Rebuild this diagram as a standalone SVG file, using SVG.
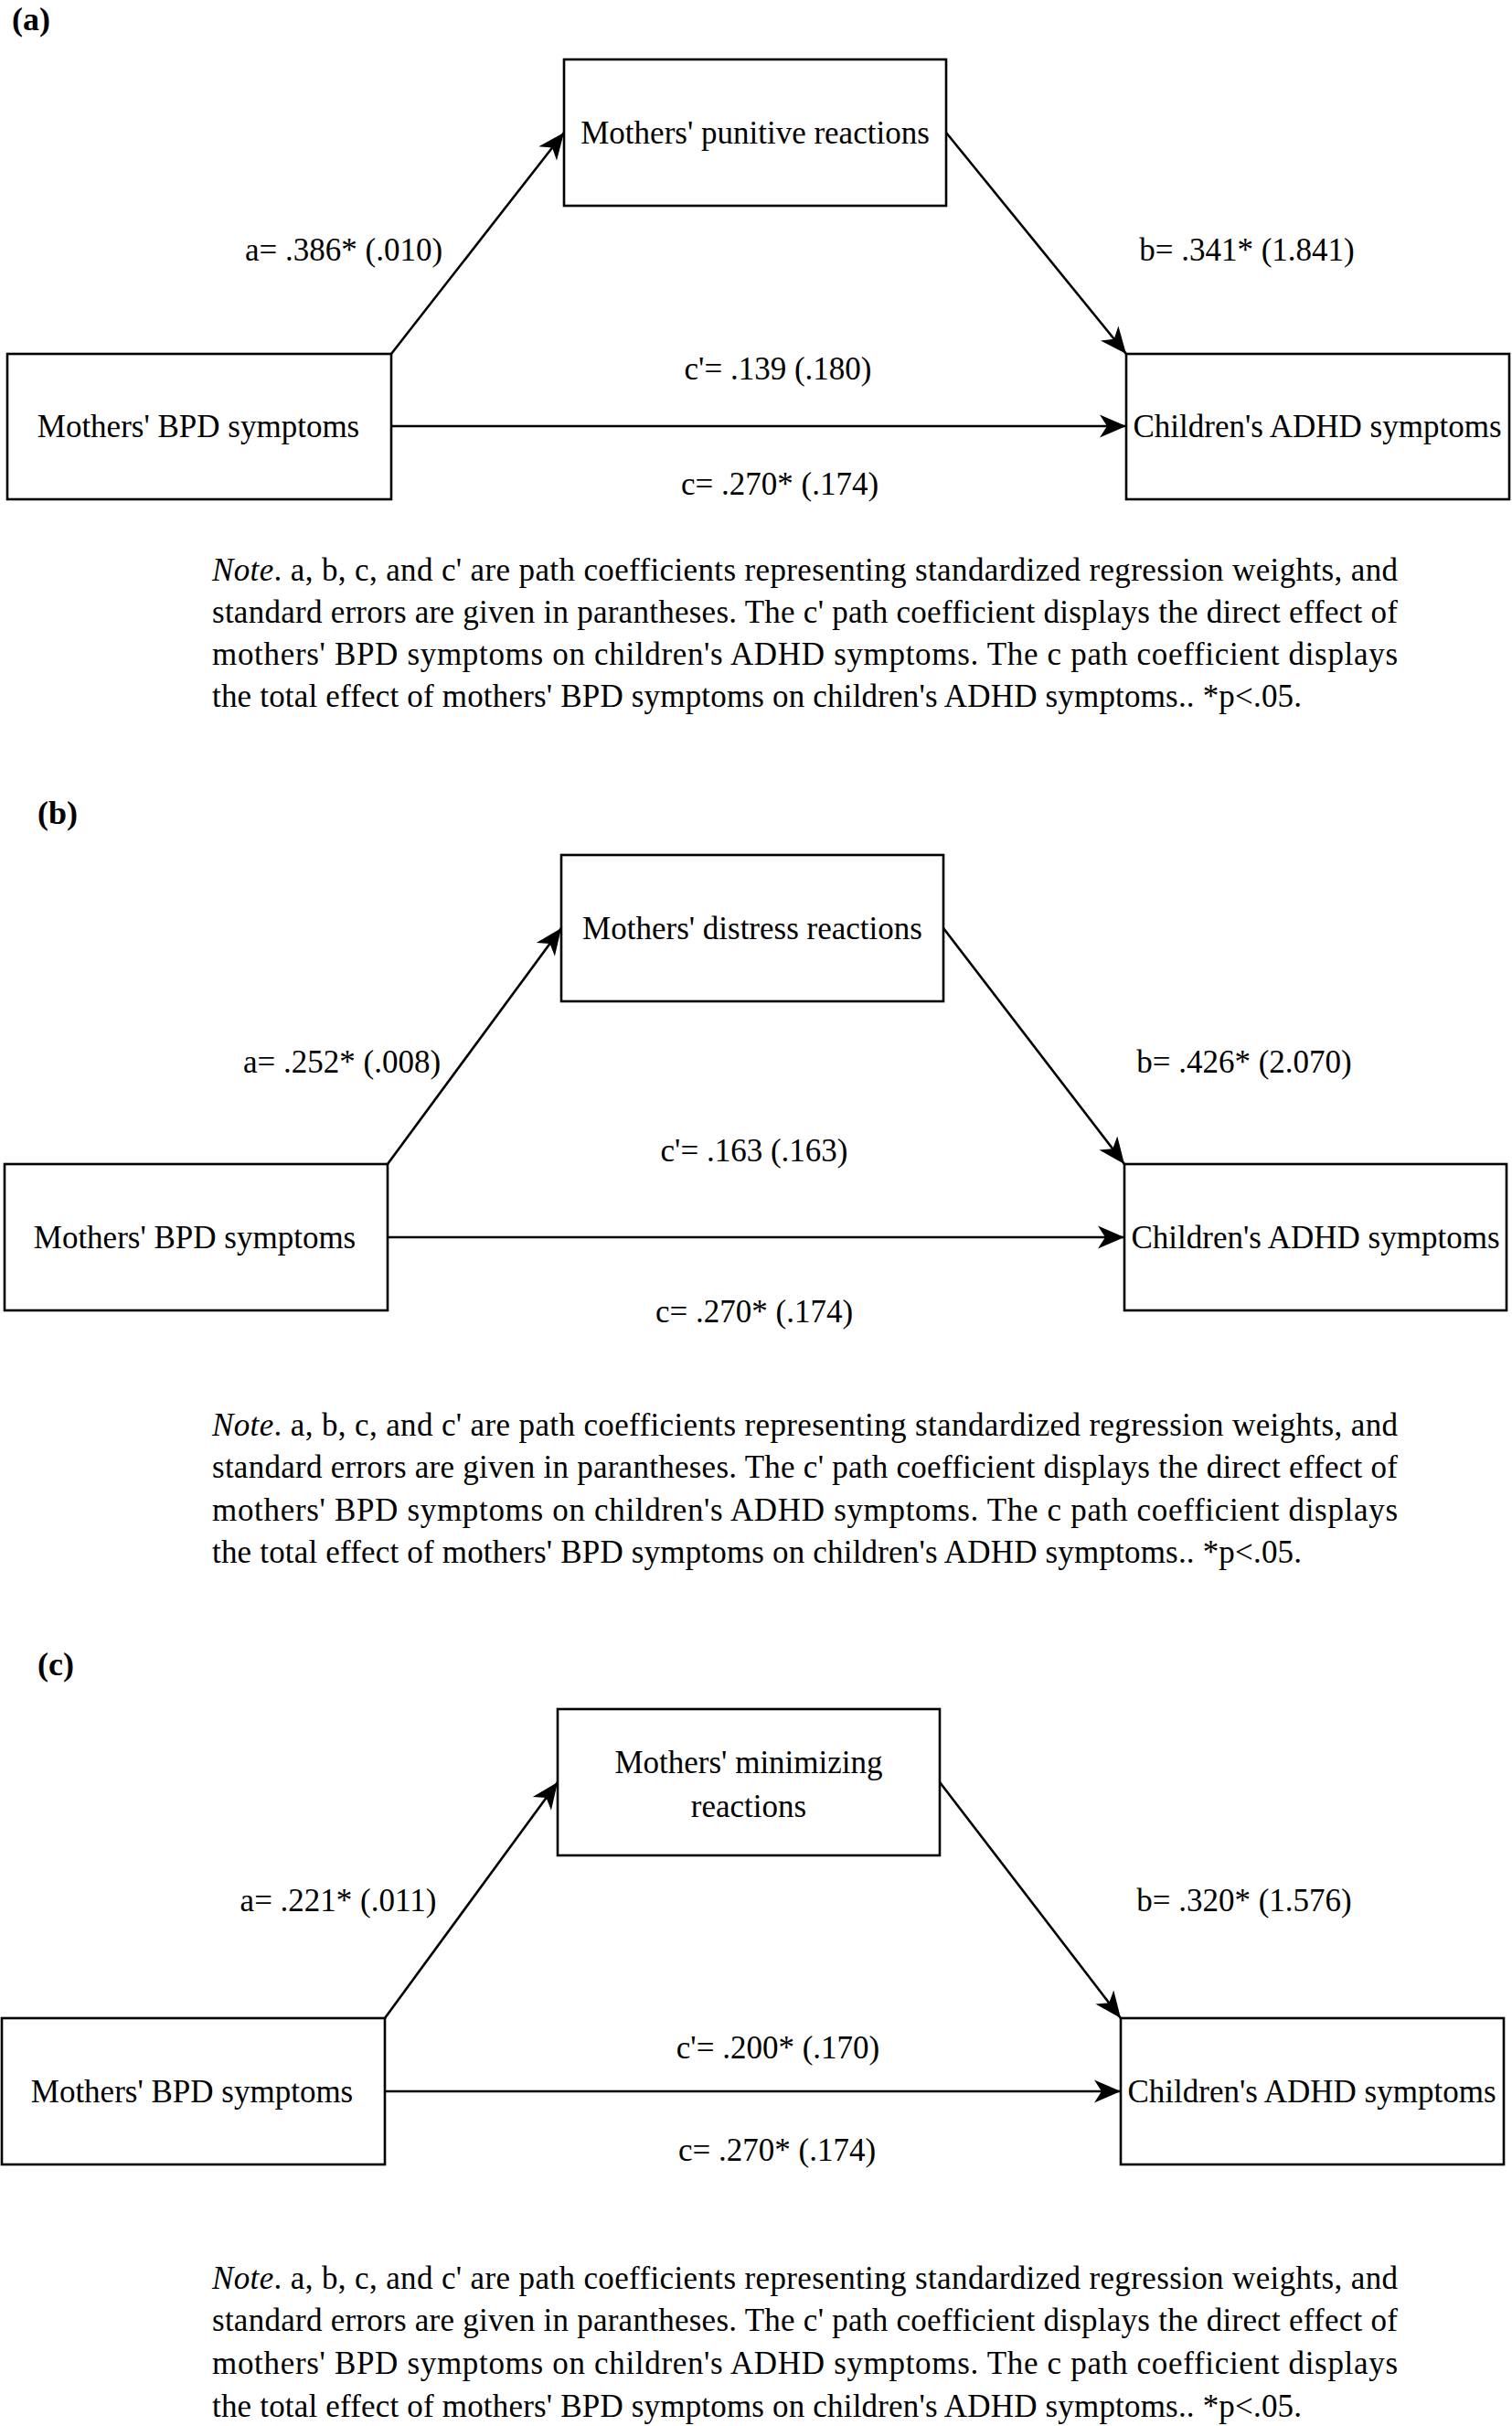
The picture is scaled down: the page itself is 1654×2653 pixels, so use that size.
<svg xmlns="http://www.w3.org/2000/svg" width="1654" height="2653" viewBox="0 0 1654 2653">
<style>
text { font-family: "Liberation Serif", "Times New Roman", serif; font-size: 35px; fill: #000; }
.box { fill: #fff; stroke: #000; stroke-width: 2.6; }
.edge { fill: none; stroke: #000; stroke-width: 2.6; marker-end: url(#arr); }
.c { text-anchor: middle; }
.panel { font-weight: bold; font-size: 36px; }
.it { font-style: italic; }
</style>
<defs>
<marker id="arr" viewBox="-30 -14 32 28" refX="0" refY="0" markerWidth="32" markerHeight="28" markerUnits="userSpaceOnUse" orient="auto">
<path d="M0,0 L-29,-12.5 L-21,0 L-29,12.5 Z" fill="#000"/>
</marker>
</defs>
<rect width="1654" height="2653" fill="#fff"/>

<!-- Panel (a) -->
<text class="panel" x="13" y="33">(a)</text>
<g id="connectors-a">
<path class="edge" d="M428,387 L617,145"/>
<path class="edge" d="M1035,145 L1232,387"/>
<path class="edge" d="M428,466 L1232,466"/>
<text class="c" x="376" y="285">a= .386* (.010)</text>
<text class="c" x="1364" y="285">b= .341* (1.841)</text>
<text class="c" x="851" y="415">c'= .139 (.180)</text>
<text class="c" x="853" y="541">c= .270* (.174)</text>
</g>
<g id="a-mediator"><rect class="box" x="617" y="65" width="418" height="160"/><text class="c" x="826" y="157">Mothers' punitive reactions</text></g>
<g id="a-bpd"><rect class="box" x="8" y="387" width="420" height="159"/><text class="c" x="217" y="478">Mothers' BPD symptoms</text></g>
<g id="a-adhd"><rect class="box" x="1232" y="387" width="419" height="159"/><text class="c" x="1441" y="478">Children's ADHD symptoms</text></g>
<g id="a-note">
<text x="232" y="635" textLength="1297" lengthAdjust="spacing"><tspan class="it">Note</tspan>. a, b, c, and c' are path coefficients representing standardized regression weights, and</text>
<text x="232" y="681" textLength="1297" lengthAdjust="spacing">standard errors are given in parantheses. The c' path coefficient displays the direct effect of</text>
<text x="232" y="727" textLength="1297" lengthAdjust="spacing">mothers' BPD symptoms on children's ADHD symptoms. The c path coefficient displays</text>
<text x="232" y="773" textLength="1192" lengthAdjust="spacing">the total effect of mothers' BPD symptoms on children's ADHD symptoms.. *p&lt;.05.</text>
</g>

<!-- Panel (b) -->
<text class="panel" x="41" y="901">(b)</text>
<g id="connectors-b">
<path class="edge" d="M424,1273 L614,1015"/>
<path class="edge" d="M1032,1015 L1230,1273"/>
<path class="edge" d="M424,1353 L1230,1353"/>
<text class="c" x="374" y="1173">a= .252* (.008)</text>
<text class="c" x="1361" y="1173">b= .426* (2.070)</text>
<text class="c" x="825" y="1270">c'= .163 (.163)</text>
<text class="c" x="825" y="1446">c= .270* (.174)</text>
</g>
<g id="b-mediator"><rect class="box" x="614" y="935" width="418" height="160"/><text class="c" x="823" y="1027">Mothers' distress reactions</text></g>
<g id="b-bpd"><rect class="box" x="5" y="1273" width="419" height="160"/><text class="c" x="213" y="1365">Mothers' BPD symptoms</text></g>
<g id="b-adhd"><rect class="box" x="1230" y="1273" width="418" height="160"/><text class="c" x="1439" y="1365">Children's ADHD symptoms</text></g>
<g id="b-note">
<text x="232" y="1570" textLength="1297" lengthAdjust="spacing"><tspan class="it">Note</tspan>. a, b, c, and c' are path coefficients representing standardized regression weights, and</text>
<text x="232" y="1616" textLength="1297" lengthAdjust="spacing">standard errors are given in parantheses. The c' path coefficient displays the direct effect of</text>
<text x="232" y="1663" textLength="1297" lengthAdjust="spacing">mothers' BPD symptoms on children's ADHD symptoms. The c path coefficient displays</text>
<text x="232" y="1709" textLength="1192" lengthAdjust="spacing">the total effect of mothers' BPD symptoms on children's ADHD symptoms.. *p&lt;.05.</text>
</g>

<!-- Panel (c) -->
<text class="panel" x="41" y="1832">(c)</text>
<g id="connectors-c">
<path class="edge" d="M421,2207 L610,1949"/>
<path class="edge" d="M1028,1949 L1226,2207"/>
<path class="edge" d="M421,2287 L1226,2287"/>
<text class="c" x="370" y="2090">a= .221* (.011)</text>
<text class="c" x="1361" y="2090">b= .320* (1.576)</text>
<text class="c" x="851" y="2251">c'= .200* (.170)</text>
<text class="c" x="850" y="2363">c= .270* (.174)</text>
</g>
<g id="c-mediator"><rect class="box" x="610" y="1869" width="418" height="160"/><text class="c" x="819" y="1939">Mothers' minimizing</text><text class="c" x="819" y="1987">reactions</text></g>
<g id="c-bpd"><rect class="box" x="2" y="2207" width="419" height="160"/><text class="c" x="210" y="2299">Mothers' BPD symptoms</text></g>
<g id="c-adhd"><rect class="box" x="1226" y="2207" width="419" height="160"/><text class="c" x="1435" y="2299">Children's ADHD symptoms</text></g>
<g id="c-note">
<text x="232" y="2503" textLength="1297" lengthAdjust="spacing"><tspan class="it">Note</tspan>. a, b, c, and c' are path coefficients representing standardized regression weights, and</text>
<text x="232" y="2549" textLength="1297" lengthAdjust="spacing">standard errors are given in parantheses. The c' path coefficient displays the direct effect of</text>
<text x="232" y="2596" textLength="1297" lengthAdjust="spacing">mothers' BPD symptoms on children's ADHD symptoms. The c path coefficient displays</text>
<text x="232" y="2643" textLength="1192" lengthAdjust="spacing">the total effect of mothers' BPD symptoms on children's ADHD symptoms.. *p&lt;.05.</text>
</g>
</svg>
